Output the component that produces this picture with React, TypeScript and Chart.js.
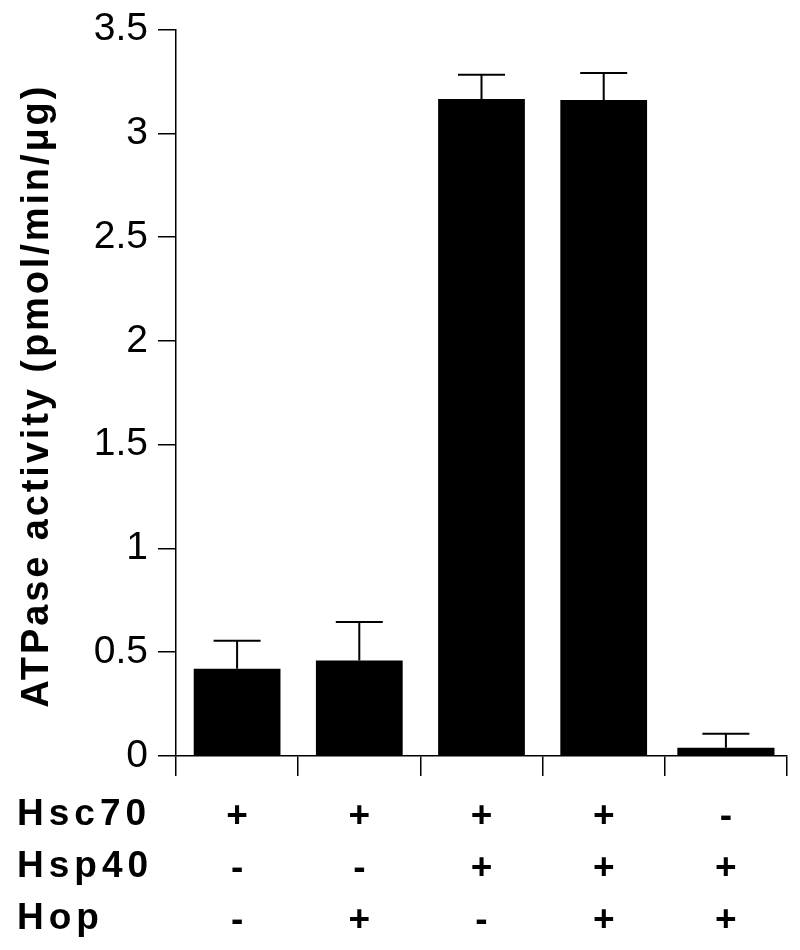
import React, { useEffect, useRef } from "react";
import { Chart, registerables } from "chart.js";

Chart.register(...registerables);

// ---- data ----
const rowNames = ["Hsc70", "Hsp40", "Hop"];
const hsc70 = ["+", "+", "+", "+", "-"];
const hsp40 = ["-", "-", "+", "+", "+"];
const hop = ["-", "+", "-", "+", "+"];
const activity = [0.42, 0.46, 3.165, 3.16, 0.04];
const errors = [0.135, 0.185, 0.117, 0.13, 0.067];
const yTitle = "ATPase activity (pmol/min/μg)";
const yMin = 0;
const yMax = 3.5;
const yStep = 0.5;

const FONT = '"Liberation Sans", Arial, Helvetica, sans-serif';
const X_TICK_LEN = 20;
const X_TICK_PAD = 14.5;
const X_LINE_H = 52;
// the last bar is drawn a little wider in the original figure
const WIDE_INDEX = 4;

const labels = hsc70.map((_, i) => [hsc70[i], hsp40[i], hop[i]]);
const normalBars = activity.map((v, i) => (i === WIDE_INDEX ? null : v));
const wideBars = activity.map((v, i) => (i === WIDE_INDEX ? v : null));

const errorBarPlugin = {
  id: "errorBars",
  afterDatasetsDraw(chart: any) {
    const ctx = chart.ctx;
    const yScale = chart.scales.y;
    ctx.save();
    ctx.strokeStyle = "#000";
    ctx.lineWidth = 2;
    const metas = [chart.getDatasetMeta(0), chart.getDatasetMeta(1)];
    metas.forEach((meta: any, d: number) => {
      const vals = d === 0 ? normalBars : wideBars;
      meta.data.forEach((bar: any, i: number) => {
        if (vals[i] == null) return;
        const p = bar.getProps(["x", "y"], true);
        const yErr = yScale.getPixelForValue(activity[i] + errors[i]);
        const half = 23.5;
        ctx.beginPath();
        ctx.moveTo(p.x, p.y);
        ctx.lineTo(p.x, yErr);
        ctx.moveTo(p.x - half, yErr);
        ctx.lineTo(p.x + half, yErr);
        ctx.stroke();
      });
    });
    ctx.restore();
  },
};

const textPlugin = {
  id: "extraText",
  afterDraw(chart: any) {
    const ctx = chart.ctx;
    const xs = chart.scales.x;
    const ya = chart.chartArea;
    ctx.save();
    ctx.fillStyle = "#000";
    // row labels
    ctx.font = `bold 37px ${FONT}`;
    (ctx as any).letterSpacing = "5px";
    ctx.textAlign = "left";
    ctx.textBaseline = "middle";
    const baseY = xs.top + X_TICK_LEN + X_TICK_PAD + X_LINE_H / 2;
    rowNames.forEach((n, i) => ctx.fillText(n, 17, baseY + i * X_LINE_H - 2));
    // y title
    ctx.font = `bold 38px ${FONT}`;
    (ctx as any).letterSpacing = "2.9px";
    ctx.translate(48, (ya.top + ya.bottom) / 2 + 3);
    ctx.rotate(-Math.PI / 2);
    ctx.textAlign = "center";
    ctx.textBaseline = "alphabetic";
    ctx.fillText(yTitle, 0, 0);
    ctx.restore();
  },
};

export default function App() {
  const ref = useRef<HTMLCanvasElement | null>(null);
  useEffect(() => {
    if (!ref.current) return;
    const chart = new Chart(ref.current, {
      type: "bar",
      data: {
        labels,
        datasets: [
          {
            data: normalBars,
            backgroundColor: "#000",
            borderWidth: 0,
            barPercentage: 0.71,
            categoryPercentage: 1,
            grouped: false,
          },
          {
            data: wideBars,
            backgroundColor: "#000",
            borderWidth: 0,
            barPercentage: 0.795,
            categoryPercentage: 1,
            grouped: false,
          },
        ],
      },
      options: {
        animation: false,
        responsive: true,
        maintainAspectRatio: false,
        layout: { padding: { top: 20, right: 13, left: 0, bottom: 0 } },
        plugins: {
          legend: { display: false },
          tooltip: { enabled: false },
        },
        scales: {
          x: {
            offset: true,
            grid: {
              offset: true,
              drawOnChartArea: false,
              drawTicks: true,
              tickLength: X_TICK_LEN,
              color: "#000",
              lineWidth: 1.5,
            },
            border: { display: true, color: "#000", width: 1.5 },
            ticks: {
              color: "#000",
              font: { family: FONT, size: 37, weight: "bold", lineHeight: `${X_LINE_H}px` },
              padding: X_TICK_PAD,
              maxRotation: 0,
              autoSkip: false,
            },
            afterFit(scale: any) {
              scale.height = 194;
            },
          },
          y: {
            min: yMin,
            max: yMax,
            grid: {
              drawOnChartArea: false,
              drawTicks: true,
              tickLength: 18,
              color: "#000",
              lineWidth: 1.5,
            },
            border: { display: true, color: "#000", width: 1.5 },
            ticks: {
              stepSize: yStep,
              color: "#000",
              font: { family: FONT, size: 39, lineHeight: 1 },
              padding: 10,
              callback: (v: any) => String(v),
            },
            afterFit(scale: any) {
              scale.width = 176;
            },
          },
        },
      },
      plugins: [errorBarPlugin, textPlugin],
    });
    return () => chart.destroy();
  }, []);
  return (
    <div style={{ position: "absolute", left: 0, top: 0, width: 800, height: 950, background: "#fff" }}>
      <canvas ref={ref} />
    </div>
  );
}
